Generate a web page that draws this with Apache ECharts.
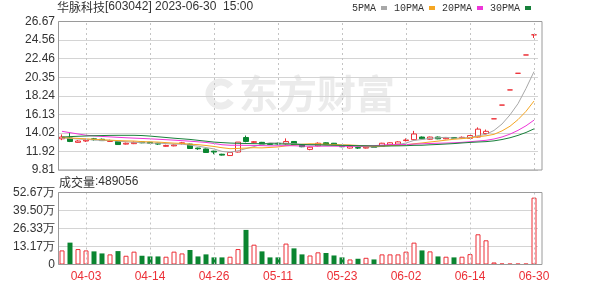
<!DOCTYPE html>
<html><head><meta charset="utf-8">
<script src="https://cdn.jsdelivr.net/npm/echarts@6/dist/echarts.min.js"></script>
<style>html,body{margin:0;padding:0;background:#fff}#c{width:600px;height:286px}</style>
</head><body><div id="c"></div>
<script>
const dates = ['03-29','03-30','03-31','04-03','04-04','04-06','04-07','04-10','04-11','04-12','04-13','04-14','04-17','04-18','04-19','04-20','04-21','04-24','04-25','04-26','04-27','04-28','05-04','05-05','05-08','05-09','05-10','05-11','05-12','05-15','05-16','05-17','05-18','05-19','05-22','05-23','05-24','05-25','05-26','05-29','05-30','05-31','06-01','06-02','06-05','06-06','06-07','06-08','06-09','06-12','06-13','06-14','06-15','06-16','06-19','06-20','06-21','06-26','06-27','06-30'];
const tickDates = ['04-03','04-14','04-26','05-11','05-23','06-02','06-14','06-30'];
const openP  = [13.35,13.45,12.95,13.10,13.35,13.30,13.05,13.05,12.75,12.80,13.00,12.95,12.85,12.50,12.55,12.80,12.75,12.30,12.20,11.95,11.60,11.45,11.85,13.50,12.95,12.95,12.80,12.85,12.78,13.05,12.70,12.15,12.55,12.90,12.85,12.50,12.30,12.35,12.30,12.42,12.50,12.65,12.75,13.15,13.25,13.55,13.30,13.55,13.35,13.50,13.45,13.40,13.55,13.95,15.62,17.18,18.90,20.79,22.87,25.16];
const closeP = [13.55,13.05,13.10,13.20,13.25,13.15,13.15,12.70,12.85,12.95,12.90,12.85,12.75,12.60,12.65,12.90,12.25,12.22,11.80,11.85,11.50,11.80,12.98,13.05,13.02,12.75,12.72,12.78,13.05,12.70,12.45,12.40,12.85,12.70,12.60,12.45,12.50,12.30,12.40,12.38,12.85,12.90,13.00,13.22,13.90,13.35,13.55,13.35,13.45,13.42,13.52,13.72,14.45,14.20,15.62,17.18,18.90,20.79,22.87,25.16];
const lowP   = [13.20,12.98,12.90,13.00,13.15,13.10,13.00,12.65,12.70,12.75,12.85,12.80,12.65,12.45,12.50,12.70,12.20,12.10,11.75,11.60,11.45,11.40,11.80,12.95,12.85,12.70,12.65,12.70,12.70,12.65,12.40,12.05,12.50,12.65,12.55,12.40,12.25,12.20,12.25,12.32,12.45,12.60,12.70,13.05,13.20,13.30,13.25,13.30,13.30,13.35,13.38,13.38,13.50,13.85,15.62,17.18,18.90,20.79,22.87,24.80];
const highP  = [13.85,14.00,13.20,13.35,13.45,13.38,13.25,13.10,12.92,13.05,13.08,13.00,12.90,12.68,12.72,13.00,12.80,12.35,12.25,12.00,11.65,11.85,12.98,13.72,13.10,13.00,12.85,12.92,13.40,13.10,12.75,12.45,12.95,12.95,12.88,12.55,12.55,12.45,12.45,12.48,12.90,12.95,13.08,13.40,14.25,13.62,13.60,13.62,13.52,13.55,13.62,13.78,14.65,14.40,15.62,17.18,18.90,20.79,22.87,25.16];
const volume = [103000,160000,113000,103000,96000,81000,74000,98000,64000,94000,64000,59000,59000,57000,94000,81000,106000,59000,74000,52000,52000,57000,113000,253000,145000,96000,52000,52000,153000,118000,74000,66000,89000,84000,66000,52000,37000,42000,49000,37000,74000,74000,74000,94000,160000,103000,96000,59000,57000,52000,57000,76000,221000,177000,15000,7000,6000,6000,6000,489056];
const ma5  = [13.45,13.40,13.33,13.28,13.23,13.15,13.17,13.09,13.02,12.96,12.91,12.85,12.86,12.81,12.75,12.75,12.63,12.52,12.36,12.20,11.92,11.83,11.99,12.24,12.47,12.72,12.90,12.86,12.86,12.80,12.74,12.68,12.69,12.62,12.60,12.60,12.62,12.51,12.45,12.41,12.49,12.57,12.71,12.87,13.17,13.27,13.40,13.47,13.52,13.42,13.46,13.49,13.71,13.86,14.30,15.03,16.07,17.34,19.07,20.98];
const ma10 = [13.50,13.45,13.40,13.35,13.30,13.25,13.20,13.15,13.12,13.10,13.03,13.01,12.98,12.92,12.86,12.83,12.74,12.69,12.59,12.48,12.34,12.23,12.26,12.30,12.34,12.32,12.37,12.43,12.55,12.64,12.73,12.79,12.78,12.74,12.70,12.67,12.65,12.60,12.54,12.50,12.54,12.59,12.61,12.66,12.79,12.88,12.99,13.09,13.20,13.30,13.37,13.45,13.59,13.69,13.86,14.25,14.78,15.53,16.47,17.64];
const ma20 = [14.20,14.05,13.90,13.76,13.68,13.62,13.57,13.52,13.47,13.43,13.39,13.35,13.30,13.25,13.20,13.14,13.08,13.01,12.94,12.82,12.68,12.62,12.62,12.61,12.60,12.58,12.55,12.56,12.57,12.56,12.53,12.51,12.52,12.52,12.52,12.50,12.51,12.51,12.54,12.57,12.64,12.69,12.69,12.70,12.75,12.78,12.82,12.85,12.87,12.90,12.95,13.02,13.10,13.18,13.33,13.56,13.88,14.31,14.83,15.47];
const ma30 = [13.55,13.60,13.64,13.67,13.70,13.72,13.74,13.75,13.75,13.75,13.72,13.66,13.58,13.50,13.42,13.35,13.28,13.18,13.08,12.98,12.92,12.87,12.84,12.82,12.80,12.79,12.78,12.77,12.76,12.74,12.70,12.68,12.67,12.65,12.63,12.61,12.59,12.57,12.56,12.54,12.54,12.54,12.55,12.57,12.61,12.62,12.67,12.71,12.76,12.81,12.88,12.94,12.99,13.03,13.12,13.27,13.47,13.74,14.07,14.48];
const priceTicks = ['9.81','11.92','14.02','16.13','18.24','20.35','22.46','24.56','26.67'];
const volTicks = ['0','13.17万','26.33万','39.50万','52.67万'];
const volMaxValue = 526700;
const stockName = '华脉科技';
const titleRest = '[603042] 2023-06-30  15:00';
const volTitleName = '成交量';
const volTitleValue = ':489056';
const maNames = ['5PMA','10PMA','20PMA','30PMA'];
const watermarkText = '东方财富';

const RED = '#ec2f36', GREEN = '#0a8530';
const maColors = ['#a8a8a8','#f5a623','#ee36d8','#17803a'];
const priceMin = Number(priceTicks[0]), priceMax = Number(priceTicks[priceTicks.length-1]);
const priceStep = (priceMax - priceMin) / (priceTicks.length - 1);
const volStep = volMaxValue / (volTicks.length - 1);

const candleData = dates.map((d, i) => [openP[i], closeP[i], lowP[i], highP[i]]);
function isUp(i) {
  if (closeP[i] > openP[i]) return true;
  if (closeP[i] < openP[i]) return false;
  return i > 0 ? closeP[i - 1] <= closeP[i] : true;
}
const volData = volume.map((v, i) => isUp(i)
  ? { value: v, itemStyle: { color: '#fff', borderColor: RED, borderWidth: 1 } }
  : { value: v, itemStyle: { color: GREEN, borderColor: GREEN, borderWidth: 0 } });

const showTick = (idx, val) => tickDates.indexOf(val) >= 0;
const font = 'Liberation Sans, Arial, sans-serif';
const cjk = 'Noto Sans CJK SC, sans-serif';
const vLines = {
  silent: true, symbol: ['none', 'none'], label: { show: false }, animation: false,
  emphasis: { disabled: true },
  lineStyle: { color: '#c4c4c4', type: [2, 3], width: 1 },
  data: tickDates.map(d => ({ xAxis: d }))
};
const richTitle = {
  a: { fontSize: 12, color: '#333', fontFamily: cjk, fontWeight: 'normal' },
  b: { fontSize: 12, color: '#333', fontFamily: font, fontWeight: 'normal' }
};

const chart = echarts.init(document.getElementById('c'), null, { renderer: 'canvas' });
const gridW = 480;
const option = {
  animation: false,
  backgroundColor: '#fff',
  title: [
    { text: '{a|' + stockName + '}{b|' + titleRest + '}', left: 57, top: 1, padding: 0,
      textStyle: { fontWeight: 'normal', rich: richTitle } },
    { text: '{a|' + volTitleName + '}{b|' + volTitleValue + '}', left: 59, top: 176, padding: 0,
      textStyle: { fontWeight: 'normal', rich: richTitle } }
  ],
  legend: {
    data: maNames, left: 352, top: 3, padding: 0, align: 'right', icon: 'rect',
    itemWidth: 6, itemHeight: 4, itemGap: 7,
    textStyle: { fontSize: 10, color: '#333', fontFamily: 'Liberation Mono, monospace' }
  },
  graphic: [
    { type: 'arc', z: -10, silent: true, shape: { cx: 221, cy: 94, r: 12, startAngle: 0.6, endAngle: 5.6 },
      style: { fill: 'none', stroke: '#ececec', lineWidth: 7 } },
    { type: 'text', left: 239, top: 74, z: -10, silent: true,
      style: { text: watermarkText, fontSize: 39, fontWeight: 'bold', fill: '#ebebeb', fontFamily: cjk } },
    { type: 'rect', z: 100, silent: true, shape: { x: 58.5, y: 21.5, width: 483.5, height: 148.5 }, style: { fill: 'none', stroke: '#9a9a9a', lineWidth: 1 } },
    { type: 'rect', z: 100, silent: true, shape: { x: 58.5, y: 192.5, width: 483.5, height: 72 }, style: { fill: 'none', stroke: '#9a9a9a', lineWidth: 1 } }
  ],
  grid: [
    { left: 58, top: 21.5, width: gridW, height: 148.5 },
    { left: 58, top: 192.5, width: gridW, height: 72 }
  ],
  xAxis: [
    { type: 'category', gridIndex: 0, data: dates, boundaryGap: true,
      axisLine: { show: false }, axisTick: { show: false }, axisLabel: { show: false },
      splitLine: { show: false } },
    { type: 'category', gridIndex: 1, data: dates, boundaryGap: true,
      axisLine: { show: false }, axisTick: { show: false },
      axisLabel: { show: true, interval: showTick, color: RED, fontSize: 12, fontFamily: font, margin: 6 },
      splitLine: { show: false } }
  ],
  yAxis: [
    { type: 'value', gridIndex: 0, min: priceMin, max: priceMax, interval: priceStep, scale: true,
      axisLine: { show: false }, axisTick: { show: false },
      axisLabel: { color: '#333', fontSize: 12, fontFamily: font, margin: 3,
        formatter: v => { const k = Math.round((v - priceMin) / priceStep); return priceTicks[k] || ''; } },
      splitLine: { show: true, lineStyle: { color: '#d4d4d4', width: 1 } } },
    { type: 'value', gridIndex: 1, min: 0, max: volMaxValue, interval: volStep,
      axisLine: { show: false }, axisTick: { show: false },
      axisLabel: { color: '#333', fontSize: 12, fontFamily: font, margin: 3,
        formatter: v => { const k = Math.round(v / volStep); return volTicks[k] || ''; } },
      splitLine: { show: true, lineStyle: { color: '#d4d4d4', width: 1 } } }
  ],
  series: [
    { type: 'candlestick', name: 'K', xAxisIndex: 0, yAxisIndex: 0, data: candleData, barWidth: 5, z: 3,
      itemStyle: { color: '#fff', color0: GREEN, borderColor: RED, borderColor0: GREEN, borderWidth: 1 } },
    ...maNames.map((n, k) => ({
      type: 'line', name: n, xAxisIndex: 0, yAxisIndex: 0, data: [ma5, ma10, ma20, ma30][k],
      symbol: 'none', showSymbol: false, color: maColors[k], z: 4,
      itemStyle: { color: maColors[k] }, lineStyle: { color: maColors[k], width: 1 },
      markLine: k === 0 ? vLines : undefined
    })),
    { type: 'bar', name: 'VOL', xAxisIndex: 1, yAxisIndex: 1, data: volData, barWidth: 5, markLine: vLines }
  ]
};
chart.setOption(option);
</script></body></html>
